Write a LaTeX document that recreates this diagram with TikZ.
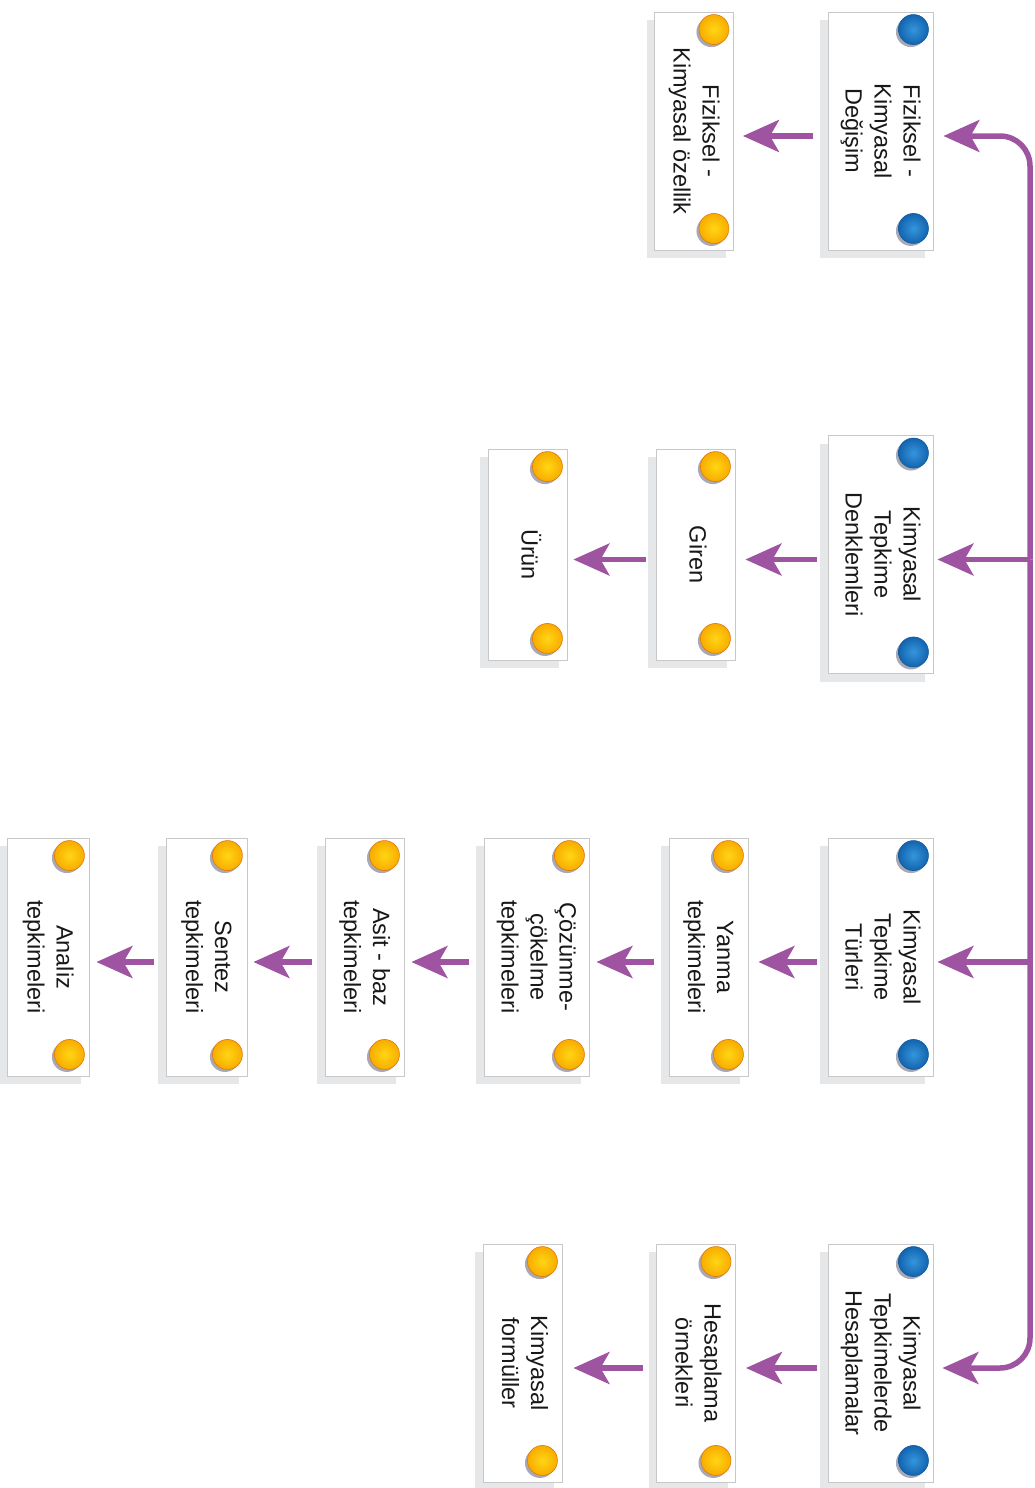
\documentclass[tikz,border=0pt]{standalone}
\usepackage{fontspec}
\usepackage{graphicx}
\setmainfont{Liberation Sans}
\usetikzlibrary{arrows.meta,shadows}
\definecolor{conncol}{HTML}{9E54A0}
\definecolor{boxgray}{HTML}{C8C8C8}
\definecolor{shadowgray}{HTML}{E6E7E8}
\definecolor{textcol}{HTML}{1A1718}
\definecolor{pinshade}{HTML}{A8A9B4}
\newcommand\rt[1]{\rotatebox{-90}{\fontsize{23.5}{29}\selectfont\begin{tabular}{@{}c@{}}#1\end{tabular}}}
\newcommand\pinpair[2]{%
  \coordinate (pa) at ([shift={(-20pt,-18pt)}]#1.north east);
  \coordinate (pb) at ([shift={(-20pt,22pt)}]#1.south east);
  \foreach \p in {pa,pb}{
    \fill[pinshade] ([shift={(-2.5pt,-2.5pt)}]\p) circle (15pt);
    \shade[#2pin] (\p) circle (15pt);
    \draw[#2rim] (\p) circle (15pt);
  }}
\begin{document}
\begin{tikzpicture}[x=1pt,y=1pt,
  box/.style={draw=boxgray, line width=0.9pt, fill=white, inner sep=0pt, text=textcol,
    drop shadow={shadow xshift=-8pt, shadow yshift=-8pt, fill=shadowgray, opacity=1}},
  wide/.style={box, minimum width=105pt},
  narrow/.style={box, minimum width=79pt},
  tall/.style={minimum height=238pt},
  conn/.style={draw=conncol, line width=5.5pt, -{Stealth[length=36pt,width=32pt,inset=9pt]}},
  bluepin/.style={inner color={rgb,255:red,52;green,150;blue,220}, outer color={rgb,255:red,20;green,100;blue,175}},
  bluerim/.style={draw={rgb,255:red,15;green,90;blue,160}, line width=0.6pt},
  yellowpin/.style={inner color={rgb,255:red,255;green,214;blue,20}, outer color={rgb,255:red,248;green,172;blue,0}},
  yellowrim/.style={draw={rgb,255:red,225;green,120;blue,10}, line width=0.6pt}]
\useasboundingbox (0,-1488) rectangle (1035,0);

% main column
\node[wide,tall] (b1) at (880.5,-131) {\rt{Fiziksel -\\Kimyasal\\Değişim}};
\node[wide,tall] (b2) at (880.5,-554.5) {\rt{Kimyasal\\Tepkime\\Denklemleri}};
\node[wide,tall] (b3) at (880.5,-957) {\rt{Kimyasal\\Tepkime\\Türleri}};
\node[wide,tall] (b4) at (880.5,-1363) {\rt{Kimyasal\\Tepkimelerde\\Hesaplamalar}};

% row 1
\node[narrow,tall] (f1) at (694,-131) {\rt{Fiziksel -\\Kimyasal özellik}};
% row 2
\node[narrow,minimum height=211pt] (gi) at (695.5,-554.5) {\rt{Giren}};
\node[narrow,minimum height=211pt] (ur) at (527.5,-554.5) {\rt{Ürün}};
% row 3
\node[narrow,tall] (ya) at (708.5,-957) {\rt{Yanma\\tepkimeleri}};
\node[wide,tall] (co) at (536.5,-957) {\rt{Çözünme-\\çökelme\\tepkimeleri}};
\node[narrow,tall] (as) at (364.5,-957) {\rt{Asit - baz\\tepkimeleri}};
\node[box,minimum width=81pt,tall] (se) at (206.5,-957) {\rt{Sentez\\tepkimeleri}};
\node[box,minimum width=82pt,tall] (an) at (48,-957) {\rt{Analiz\\tepkimeleri}};
% row 4
\node[narrow,tall] (he) at (696,-1363) {\rt{Hesaplama\\örnekleri}};
\node[narrow,tall] (kf) at (522.5,-1363) {\rt{Kimyasal\\formüller}};

% pins
\pinpair{b1}{blue}
\pinpair{b2}{blue}
\pinpair{b3}{blue}
\pinpair{b4}{blue}
\pinpair{f1}{yellow}
\pinpair{gi}{yellow}
\pinpair{ur}{yellow}
\pinpair{ya}{yellow}
\pinpair{co}{yellow}
\pinpair{as}{yellow}
\pinpair{se}{yellow}
\pinpair{an}{yellow}
\pinpair{he}{yellow}
\pinpair{kf}{yellow}

% trunk
\coordinate (tA) at (1030,-559.5);
\coordinate (tB) at (1030,-962);
\draw[conn, rounded corners=30pt] (tA) |- ([shift={(10pt,-5pt)}]b1.east);
\draw[conn, rounded corners=30pt] (tA) |- ([shift={(9pt,-5pt)}]b4.east);
\draw[conn] (tA) -- ([shift={(4pt,-5pt)}]b2.east);
\draw[conn] (tB) -- ([shift={(4pt,-5pt)}]b3.east);

% row connectors
\draw[conn] ([shift={(-15pt,-5pt)}]b1.west) -- ([shift={(9pt,-5pt)}]f1.east);
\draw[conn] ([shift={(-11pt,-5pt)}]b2.west) -- ([shift={(10pt,-5pt)}]gi.east);
\draw[conn] ([shift={(-10pt,-5pt)}]gi.west) -- ([shift={(6pt,-5pt)}]ur.east);
\draw[conn] ([shift={(-11pt,-5pt)}]b3.west) -- ([shift={(10pt,-5pt)}]ya.east);
\draw[conn] ([shift={(-15pt,-5pt)}]ya.west) -- ([shift={(7pt,-5pt)}]co.east);
\draw[conn] ([shift={(-15pt,-5pt)}]co.west) -- ([shift={(7pt,-5pt)}]as.east);
\draw[conn] ([shift={(-13pt,-5pt)}]as.west) -- ([shift={(6pt,-5pt)}]se.east);
\draw[conn] ([shift={(-12pt,-5pt)}]se.west) -- ([shift={(7pt,-5pt)}]an.east);
\draw[conn] ([shift={(-11pt,-5pt)}]b4.west) -- ([shift={(10pt,-5pt)}]he.east);
\draw[conn] ([shift={(-13pt,-5pt)}]he.west) -- ([shift={(11pt,-5pt)}]kf.east);
\end{tikzpicture}
\end{document}
